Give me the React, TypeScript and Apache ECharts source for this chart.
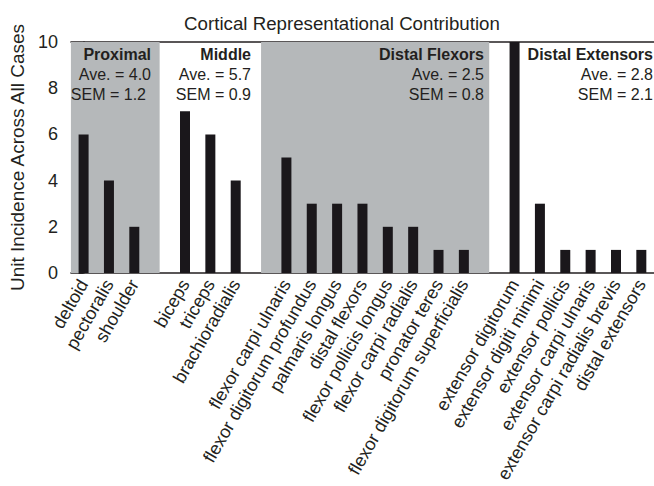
import React, { useEffect, useRef } from "react";
import * as echarts from "echarts";

const categories = [
  "deltoid", "pectoralis", "shoulder", "",
  "biceps", "triceps", "brachioradialis", "",
  "flexor carpi ulnaris", "flexor digitorum profundus", "palmaris longus", "distal flexors",
  "flexor pollicis longus", "flexor carpi radialis", "pronator teres", "flexor digitorum superficialis", "",
  "extensor digitorum", "extensor digiti minimi", "extensor pollicis", "extensor carpi ulnaris",
  "extensor carpi radialis brevis", "distal extensors",
];
const values: (number | null)[] = [
  6, 4, 2, null,
  7, 6, 4, null,
  5, 3, 3, 3, 2, 2, 1, 1, null,
  10, 3, 1, 1, 1, 1,
];
const yTicks = { min: 0, max: 10, interval: 2 };
// shaded group spans in slot-index coordinates
const shadedSpans: [number, number][] = [[-0.5, 3], [7, 16]];

const FONT = "'Liberation Sans', Arial, Helvetica, sans-serif";

export default function App() {
  const ref = useRef<HTMLDivElement>(null);
  useEffect(() => {
    if (!ref.current) return;
    const chart = echarts.init(ref.current, undefined, { renderer: "svg" });
    const groupText = (right: number, name: string, ave: string, sem: string, semRight?: number) => [
      { type: "text", z: 100, x: right, y: 54, style: { text: name, font: `bold 16px ${FONT}`, fill: "#231f20", align: "right", verticalAlign: "middle" } },
      { type: "text", z: 100, x: right, y: 74, style: { text: ave, font: `16px ${FONT}`, fill: "#231f20", align: "right", verticalAlign: "middle" } },
      { type: "text", z: 100, x: semRight ?? right, y: 94, style: { text: sem, font: `16px ${FONT}`, fill: "#231f20", align: "right", verticalAlign: "middle" } },
    ];
    chart.setOption({
      animation: false,
      backgroundColor: "#ffffff",
      title: {
        text: "Cortical Representational Contribution",
        left: 337, top: 9, textAlign: "center",
        textStyle: { fontFamily: FONT, fontSize: 18.7, fontWeight: "normal", color: "#231f20" },
      },
      grid: { left: 66, right: -6, top: 42, bottom: 213, containLabel: false },
      xAxis: [
        {
          type: "category", data: categories,
          axisLine: { lineStyle: { color: "#231f20", width: 1.5 } },
          axisTick: { show: false },
          axisLabel: { rotate: 60, interval: 0, margin: 8, fontFamily: FONT, fontSize: 18, color: "#231f20" },
        },
        {
          type: "value", position: "top", min: -0.5, max: 22.5,
          axisLine: { show: true, onZero: false, lineStyle: { color: "#231f20", width: 1.5 } },
          axisTick: { show: false }, axisLabel: { show: false }, splitLine: { show: false },
        },
      ],
      yAxis: {
        type: "value", ...yTicks,
        name: "Unit Incidence Across All Cases", nameLocation: "middle", nameGap: 37,
        nameTextStyle: { fontFamily: FONT, fontSize: 19, color: "#231f20" },
        axisLine: { show: true, lineStyle: { color: "#231f20", width: 1.5 } },
        axisTick: { show: true, length: 5, lineStyle: { color: "#231f20" } },
        axisLabel: { fontFamily: FONT, fontSize: 18, color: "#231f20", margin: 13 },
        splitLine: { show: false },
      },
      series: [
        {
          type: "line", xAxisIndex: 1, data: [], silent: true,
          markArea: {
            silent: true,
            itemStyle: { color: "#b5b8ba" },
            data: shadedSpans.map(([a, b]) => [{ xAxis: a, yAxis: yTicks.min }, { xAxis: b, yAxis: yTicks.max }]),
          },
        },
        {
          type: "bar", xAxisIndex: 0, data: values, barWidth: 10,
          itemStyle: { color: "#1a171b" },
          z: 3,
        },
      ],
      graphic: [
        ...groupText(151, "Proximal", "Ave. = 4.0", "SEM = 1.2", 146),
        ...groupText(251, "Middle", "Ave. = 5.7", "SEM = 0.9"),
        ...groupText(484, "Distal Flexors", "Ave. = 2.5", "SEM = 0.8"),
        ...groupText(653, "Distal Extensors", "Ave. = 2.8", "SEM = 2.1"),
      ],
    });
    return () => chart.dispose();
  }, []);
  return <div ref={ref} style={{ width: 654, height: 486, position: "absolute", left: 0, top: 0 }} />;
}
